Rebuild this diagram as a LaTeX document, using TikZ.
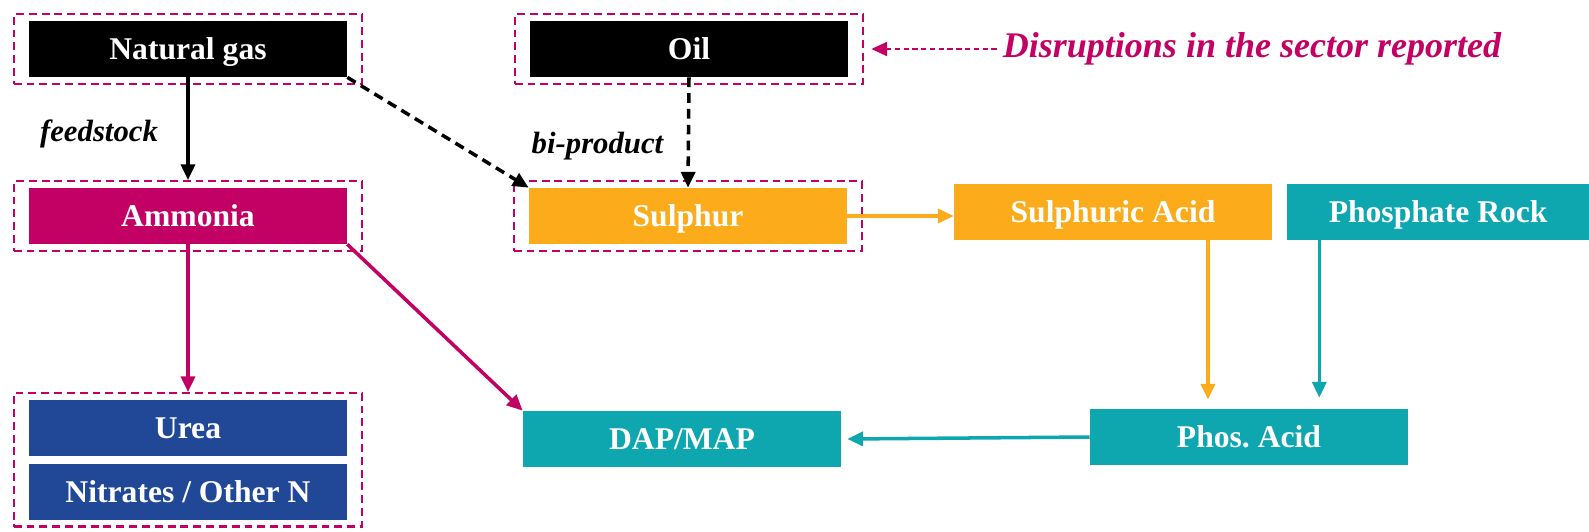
\documentclass[tikz,border=0pt]{standalone}
\usepackage{fontspec}
\setmainfont{Liberation Serif}
\usepackage{xcolor}
\usepackage{tikz}
\usetikzlibrary{arrows.meta, positioning, fit}

\definecolor{plum}{HTML}{C30064}
\definecolor{amber}{HTML}{FCAB1A}
\definecolor{teal}{HTML}{0EA6AF}
\definecolor{navy}{HTML}{214896}

\begin{document}
\begin{tikzpicture}[x=0.02cm, y=-0.02cm, >={Triangle[length=9pt, width=8pt]},
  box/.style={rectangle, text=white, font=\fontsize{18}{20}\selectfont\bfseries,
    minimum width=6.36cm, minimum height=1.12cm, inner sep=0pt, text depth=0pt},
  frame/.style={draw=plum, line width=1.2pt, dash pattern=on 4.5pt off 2.8pt,
    inner xsep=0.3cm, inner ysep=0.13cm},
  flow/.style={->, line width=2pt},
  tag/.style={font=\fontsize{17.5}{20}\selectfont\bfseries\itshape}]

\useasboundingbox (0,0) rectangle (1589,531);

% Define nodes
\node[box, fill=black] (gas) at (188,49) {Natural gas};
\node[box, fill=black] (oil) at (689,49) {Oil};
\node[box, fill=plum] (ammonia) at (188,216) {Ammonia};
\node[box, fill=amber] (sulphur) at (688,216) {Sulphur};
\node[box, fill=amber] (acid) at (1113,212) {Sulphuric Acid};
\node[box, fill=teal, minimum width=6.06cm, right=0.28cm of acid] (rock) {Phosphate Rock};
\node[box, fill=navy] (urea) at (188,428) {Urea};
\node[box, fill=navy, below=0.14cm of urea] (nitrates) {Nitrates / Other N};
\node[box, fill=teal] (dap) at (682,439) {DAP/MAP};
\node[box, fill=teal] (phos) at (1249,437) {Phos.\ Acid};

% Dashed frames
\node[frame, fit=(gas)] (gasframe) {};
\node[frame, fit=(oil)] (oilframe) {};
\node[frame, fit=(ammonia)] (ammframe) {};
\node[frame, fit=(sulphur)] (sulframe) {};
\node[frame, fit=(urea) (nitrates)] (nframe) {};

% Feedstock and bi-product links
\draw[flow] (gas.south) -- node[tag, left=0.45cm, pos=0.55] {feedstock} (ammframe.north -| gas.south);
\draw[flow, dash pattern=on 5.5pt off 3.5pt] (gas.south east) -- (sulphur.north west);
\draw[flow, dash pattern=on 5.5pt off 3.5pt] (oil.south) -- node[tag, left=0.35cm, pos=0.62] {bi-product} (sulphur.north);

% Nitrogen chain
\draw[flow, plum] (ammonia.south) -- (nframe.north -| ammonia.south);
\draw[flow, plum] (ammonia.south east) -- (dap.north west);

% Phosphate chain
\coordinate (acidout) at ([xshift=1.9cm]acid.south);
\coordinate (rockout) at ([xshift=0.66cm]rock.south west);
\draw[flow, amber] (sulphur.east) -- (sulphur.east -| acid.west);
\draw[flow, amber, shorten >=0.18cm] (acidout) -- (acidout |- phos.north);
\draw[flow, teal, shorten >=0.22cm] (rockout) -- (rockout |- phos.north);
\draw[flow, teal] (phos.west) -- ([xshift=0.12cm]dap.east);

% Note
\node[plum, font=\fontsize{20.5}{24}\selectfont\bfseries\itshape] (note) at (1252,49) {Disruptions in the sector reported};
\draw[->, plum, line width=1.2pt, dash pattern=on 3pt off 2pt] (note.west) -- ([xshift=0.14cm]oilframe.east |- note.west);

\end{tikzpicture}
\end{document}
